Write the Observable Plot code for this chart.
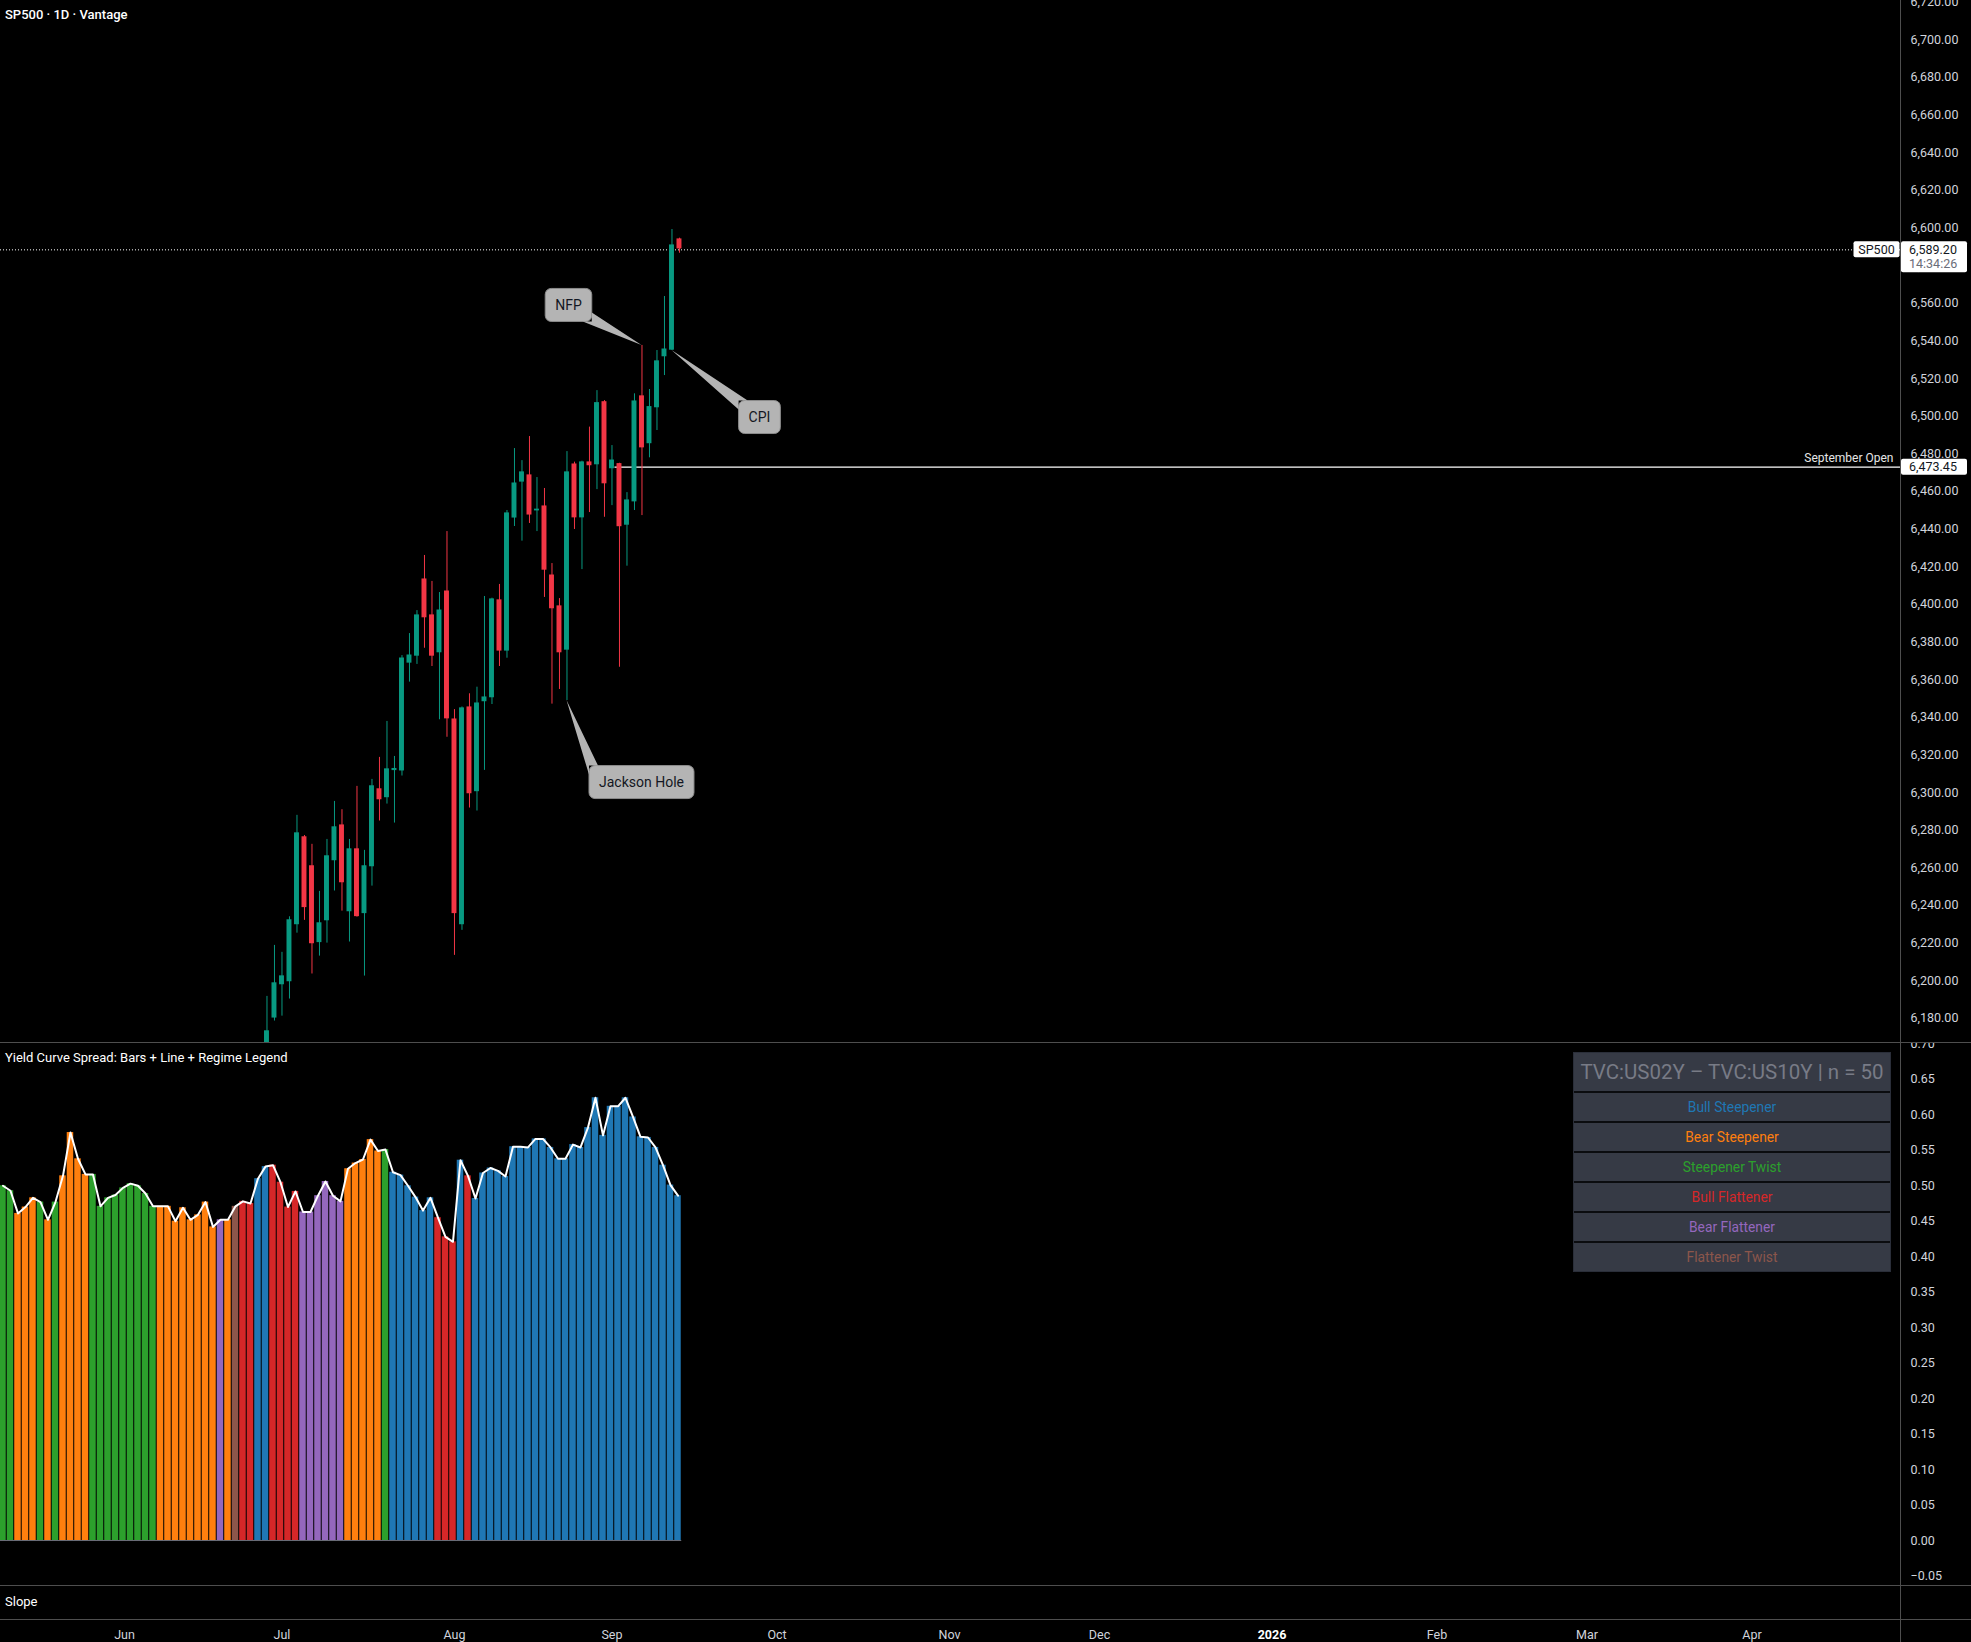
<!DOCTYPE html>
<html><head><meta charset="utf-8">
<script src="https://cdn.jsdelivr.net/npm/d3@7"></script>
<script src="https://cdn.jsdelivr.net/npm/@observablehq/plot@0.6"></script>
<style>
html,body{margin:0;padding:0;background:#000;}
#root{position:relative;width:1971px;height:1642px;overflow:hidden;background:#000;font-family:Roboto,"Noto Sans","DejaVu Sans",sans-serif;color:#d1d4dc;}
.pane{position:absolute;left:0;}
.pane svg{overflow:hidden;display:block;}
.sep{position:absolute;left:0;width:1971px;height:1px;background:#4e4e4e;}
.vsep{position:absolute;top:0;left:1900px;width:1px;height:1642px;background:#4e4e4e;}
.ttl{position:absolute;left:5px;color:#fff;font-size:13px;line-height:16px;white-space:nowrap;}
#legend{position:absolute;left:1573px;top:1052px;width:318px;background:#0b0c0f;border:1px solid #2a2e39;box-sizing:border-box;}
#legend div{background:#363a45;text-align:center;}
</style></head>
<body><div id="root"></div>
<script>
// ---------------- DATA ----------------
const chartTitle = "SP500 · 1D · Vantage";
const paneTitle = "Yield Curve Spread: Bars + Line + Regime Legend";
const slopeTitle = "Slope";

// Daily candles (weekday bars), first visible bar date
const candleStart = "2025-06-27";
const candleOpen  = [6150.0,6180.5,6198.2,6199.8,6230.1,6276.2,6260.8,6220.6,6232.2,6264.1,6282.5,6237.0,6269.8,6236.0,6260.9,6301.7,6297.6,6312.0,6311.8,6369.1,6372.8,6413.2,6394.1,6374.6,6406.8,6338.8,6230.1,6345.2,6300.8,6348.6,6350.7,6402.1,6375.5,6446.2,6465.3,6468.5,6450.0,6452.0,6415.3,6398.9,6376.0,6474.3,6446.3,6475.4,6474.5,6507.4,6472.4,6474.5,6442.4,6454.8,6510.5,6485.7,6504.8,6531.9,6535.4,6593.9];
const candleHigh  = [6191.7,6218.8,6215.1,6234.0,6287.9,6277.2,6272.5,6247.5,6275.1,6295.3,6290.9,6275.1,6303.3,6269.3,6307.0,6318.7,6337.8,6319.2,6372.8,6384.5,6396.7,6426.0,6412.2,6406.3,6438.7,6344.1,6345.5,6352.5,6356.0,6404.2,6403.3,6410.6,6449.9,6482.8,6476.4,6489.2,6467.4,6461.6,6421.7,6403.1,6481.2,6475.6,6476.1,6494.2,6513.6,6508.3,6484.4,6475.0,6459.4,6511.9,6537.6,6514.2,6534.9,6563.6,6599.2,6594.6];
const candleLow   = [6140.0,6178.6,6181.2,6190.3,6225.3,6232.1,6203.6,6213.1,6220.0,6247.7,6237.0,6220.6,6233.8,6202.5,6250.3,6284.9,6293.9,6283.8,6308.8,6358.7,6368.1,6376.7,6367.0,6338.7,6329.4,6213.5,6226.8,6291.8,6290.2,6311.8,6346.8,6367.0,6371.4,6441.4,6433.6,6443.0,6438.7,6403.7,6347.0,6354.8,6348.9,6439.8,6418.5,6448.8,6461.0,6446.3,6452.5,6366.6,6420.3,6449.9,6447.2,6477.9,6492.4,6521.6,6534.9,6586.6];
const candleClose = [6173.1,6198.6,6202.3,6232.1,6278.3,6239.2,6220.0,6230.5,6266.1,6281.5,6252.4,6269.8,6234.4,6260.8,6303.3,6296.5,6312.3,6312.5,6371.2,6372.8,6394.1,6393.2,6372.8,6396.7,6339.5,6236.0,6344.7,6299.7,6347.3,6350.5,6402.6,6375.5,6448.3,6464.2,6470.1,6447.8,6450.3,6418.5,6398.0,6374.6,6470.1,6446.3,6475.4,6474.0,6506.9,6464.4,6476.4,6441.6,6455.2,6507.8,6483.5,6504.8,6529.1,6535.4,6590.7,6589.2];

const lastPrice = 6589.20;
const lastTimer = "14:34:26";
const symbolTag = "SP500";
const septOpen = {date: "2025-09-01", value: 6473.45, label: "September Open"};

const callouts = [
  {label: "NFP", date: "2025-09-05", at: "high"},
  {label: "CPI", date: "2025-09-11", at: "low"},
  {label: "Jackson Hole", date: "2025-08-22", at: "low"}
];

// Yield-curve spread (US02Y – US10Y), one bar per weekday
const spreadStart = "2025-05-09";
const spreadValues = [0.500,0.493,0.461,0.470,0.483,0.477,0.452,0.477,0.514,0.575,
 0.538,0.516,0.516,0.471,0.483,0.487,0.497,0.503,0.500,0.489,
 0.471,0.471,0.471,0.450,0.469,0.452,0.459,0.477,0.442,0.452,
 0.452,0.471,0.478,0.475,0.510,0.527,0.529,0.505,0.470,0.492,
 0.463,0.463,0.486,0.506,0.486,0.478,0.524,0.532,0.537,0.565,
 0.549,0.551,0.519,0.515,0.500,0.484,0.465,0.483,0.455,0.428,
 0.421,0.536,0.514,0.482,0.518,0.525,0.521,0.513,0.555,0.555,
 0.554,0.566,0.566,0.554,0.538,0.538,0.558,0.554,0.582,0.624,
 0.571,0.612,0.612,0.624,0.597,0.569,0.568,0.554,0.529,0.501,0.486];
const spreadRegimes = ["ST","ST","BeS","BeS","BeS","ST","BeS","ST","BeS","BeS",
 "BeS","BeS","ST","ST","ST","ST","ST","ST","ST","ST",
 "ST","BeS","BeS","BeS","BeS","BeS","BeS","BeS","BeS","BeF",
 "BeS","FT","BuF","BuF","BuS","BuS","BuF","BuF","BuF","BuF",
 "BeF","BeF","BeF","BeF","BeF","BeF","BeS","BeS","BeS","BeS",
 "BeS","ST","BuS","BuS","BuS","BuS","BuS","BuS","BuF","BuF",
 "BuF","BuS","BuF","BuS","BuS","BuS","BuS","BuS","BuS","BuS",
 "BuS","BuS","BuS","BuS","BuS","BuS","BuS","BuS","BuS","BuS",
 "BuS","BuS","BuS","BuS","BuS","BuS","BuS","BuS","BuS","BuS","BuS"];

const regimeKeys   = ["BuS","BeS","ST","BuF","BeF","FT"];
const regimeNames  = ["Bull Steepener","Bear Steepener","Steepener Twist","Bull Flattener","Bear Flattener","Flattener Twist"];
const regimeColors = ["#1f77b4","#ff7f0e","#2ca02c","#d62728","#9467bd","#8c564b"];
const legendHeader = "TVC:US02Y – TVC:US10Y | n = 50";

const priceTicks = d3.range(6180, 6721, 20);
const spreadTicks = d3.range(-1, 15).map(k => +(k * 0.05).toFixed(2));
const monthLabels = ["Jun","Jul","Aug","Sep","Oct","Nov","Dec","2026","Feb","Mar","Apr"];

// ---------------- SETUP ----------------
const UP = "#089981", DN = "#f23645";
const FONT = "Roboto, 'Noto Sans', 'DejaVu Sans', sans-serif";
const fmtDay = d3.utcFormat("%Y-%m-%d");
const weekdays = d3.utcDay.range(new Date(Date.UTC(2025,4,1)), new Date(Date.UTC(2026,4,1)))
  .filter(d => d.getUTCDay() !== 0 && d.getUTCDay() !== 6);
const origin = weekdays.findIndex(d => fmtDay(d) === "2025-06-02");
const idxOf = s => weekdays.findIndex(d => fmtDay(d) === s) - origin;
const xDomain = [-16.53, 236.8];

const c0 = idxOf(candleStart);
const candles = candleOpen.map((o, j) => ({i: c0 + j, o, h: candleHigh[j], l: candleLow[j], c: candleClose[j]}));
const s0 = idxOf(spreadStart);
const spread = spreadValues.map((v, j) => ({i: s0 + j, v, color: regimeColors[regimeKeys.indexOf(spreadRegimes[j])]}));

// month ticks: first weekday of each month
const monthTicks = [];
weekdays.forEach((d, k) => {
  const prev = weekdays[k - 1];
  if (k - origin >= 0 && (!prev || prev.getUTCMonth() !== d.getUTCMonth()) && monthTicks.length < monthLabels.length)
    monthTicks.push({i: k - origin, label: monthLabels[monthTicks.length]});
});

const root = document.getElementById("root");
function place(node, top, cls) { const div = document.createElement("div"); div.className = cls || "pane"; div.style.top = top + "px"; if (node) div.appendChild(node); root.appendChild(div); return div; }

const measure = (() => { const ctx = document.createElement("canvas").getContext("2d"); return (t, f) => { ctx.font = f; return ctx.measureText(t).width; }; })();

// custom render: callouts
function calloutMark(index, scales, values, dims) {
  const g = d3.create("svg:g");
  const offsets = {"NFP": [-73, -40], "CPI": [88, 67], "Jackson Hole": [75, 82]};
  for (const c of callouts) {
    const cd = candles.find(d => d.i === idxOf(c.date));
    const ax = scales.x(cd.i), ay = scales.y(c.at === "high" ? cd.h : cd.l);
    const [ox, oy] = offsets[c.label];
    const w = measure(c.label, "14px " + FONT) + 20, h = 33;
    const cx = ax + ox, cy = ay + oy;
    const x0 = cx - w/2, y0 = cy - h/2;
    const kx = ox < 0 ? x0 + w : x0, ky = oy < 0 ? y0 + h : y0;
    const sx = ox < 0 ? -9 : 9, sy = oy < 0 ? -9 : 9;
    g.append("rect").attr("x", x0).attr("y", y0).attr("width", w).attr("height", h).attr("rx", 6)
      .attr("fill", "#b4b4b4").attr("stroke", "#8c8c8c").attr("stroke-width", 1);
    g.append("path").attr("d", `M${ax},${ay}L${kx + sx},${ky}L${kx},${ky}L${kx},${ky + sy}Z`).attr("fill", "#b4b4b4");
    g.append("text").attr("x", cx).attr("y", cy).attr("dy", "0.36em").attr("text-anchor", "middle")
      .attr("fill", "#131722").attr("font-size", 14).attr("font-family", FONT).text(c.label);
  }
  return g.node();
}

// custom render: price tags on the axis
function tagMark(index, scales, values, dims) {
  const g = d3.create("svg:g").attr("font-family", FONT);
  const ax = dims.width - dims.marginRight;
  const yp = scales.y(lastPrice) + 1.5;
  g.append("rect").attr("x", ax - 46.5).attr("y", yp - 8).attr("width", 46).attr("height", 16).attr("rx", 2).attr("fill", "#fff");
  g.append("text").attr("x", ax - 23.5).attr("y", yp).attr("dy", "0.35em").attr("text-anchor", "middle").attr("font-size", 12.5).attr("fill", "#131722").text(symbolTag);
  g.append("rect").attr("x", ax + 1).attr("y", yp - 8).attr("width", 66).attr("height", 31).attr("rx", 2).attr("fill", "#fff");
  g.append("text").attr("x", ax + 9).attr("y", yp).attr("dy", "0.35em").attr("text-anchor", "start").attr("font-size", 12.5).attr("fill", "#131722").text(d3.format(",.2f")(lastPrice));
  g.append("text").attr("x", ax + 9).attr("y", yp + 14).attr("dy", "0.35em").attr("text-anchor", "start").attr("font-size", 12.5).attr("fill", "#6a6d78").text(lastTimer);
  const ys = scales.y(septOpen.value) + 1;
  g.append("rect").attr("x", ax + 1).attr("y", ys - 8).attr("width", 66).attr("height", 16).attr("rx", 2).attr("fill", "#fff");
  g.append("text").attr("x", ax + 9).attr("y", ys).attr("dy", "0.35em").attr("text-anchor", "start").attr("font-size", 12.5).attr("fill", "#131722").text(d3.format(",.2f")(septOpen.value));
  return g.node();
}

// ---------------- MAIN PANE ----------------
const main = Plot.plot({
  width: 1971, height: 1042, marginLeft: 0, marginRight: 71, marginTop: 0, marginBottom: 0,
  style: {background: "#000", color: "#d1d4dc", fontFamily: FONT, fontSize: "12.5px", overflow: "hidden"},
  x: {domain: xDomain, axis: null},
  y: {domain: [6167.2, 6720.9], axis: "right", ticks: priceTicks, tickFormat: d3.format(",.2f"), tickSize: 0, tickPadding: 10, label: null},
  color: {type: "identity"},
  marks: [
    Plot.ruleY([septOpen.value], {x1: idxOf(septOpen.date) + 0.4, x2: xDomain[1], dy: 1, stroke: "#fff", strokeWidth: 1.3}),
    Plot.ruleY([lastPrice], {x1: xDomain[0], x2: xDomain[1], dy: 1.5, stroke: "#fff", strokeWidth: 1, strokeDasharray: "1,2"}),
    Plot.ruleX(candles, {x: "i", y1: "l", y2: "h", stroke: d => d.c >= d.o ? UP : DN, strokeWidth: 1}),
    Plot.rect(candles, {x1: d => d.i - 0.33, x2: d => d.i + 0.33, y1: d => Math.min(d.o, d.c), y2: d => Math.max(d.o, d.c),
      fill: d => d.c >= d.o ? UP : DN, insetTop: -0.6, insetBottom: -0.6}),
    Plot.text([septOpen], {x: xDomain[1], y: "value", text: "label", textAnchor: "end", dx: -7, dy: -8, fill: "#e6e6e6", fontSize: 12}),
    calloutMark,
    tagMark
  ]
});
place(main, 0);

// ---------------- SPREAD PANE ----------------
const lower = Plot.plot({
  width: 1971, height: 542, marginLeft: 0, marginRight: 71, marginTop: 0, marginBottom: 0,
  style: {background: "#000", color: "#d1d4dc", fontFamily: FONT, fontSize: "12.5px", overflow: "hidden"},
  x: {domain: xDomain, axis: null},
  y: {domain: [-0.0634, 0.7005], axis: "right", ticks: spreadTicks, tickFormat: d3.format(".2f"), tickSize: 0, tickPadding: 10, label: null},
  color: {type: "identity"},
  marks: [
    Plot.rect(spread, {x1: d => d.i - 0.7, x2: d => d.i + 0.3, y1: 0, y2: "v", fill: "color", insetLeft: 0.5, insetRight: 0.5}),
    Plot.ruleY([0], {x1: spread[0].i - 0.7, x2: spread[spread.length - 1].i + 0.3, stroke: "#6a6d78", strokeWidth: 1}),
    Plot.line(spread, {x: d => d.i - 0.2, y: "v", stroke: "#fff", strokeWidth: 2})
  ]
});
place(lower, 1043);

// ---------------- TIME AXIS ----------------
const timeAxis = Plot.plot({
  width: 1971, height: 22, marginLeft: 0, marginRight: 71, marginTop: 0, marginBottom: 0,
  style: {background: "#000", color: "#d1d4dc", fontFamily: FONT, fontSize: "12.5px", overflow: "hidden"},
  x: {domain: xDomain, axis: null},
  marks: [
    Plot.text(monthTicks.filter(d => !/^\d+$/.test(d.label)), {x: "i", text: "label", frameAnchor: "middle", dy: 3, fill: "#d1d4dc"}),
    Plot.text(monthTicks.filter(d => /^\d+$/.test(d.label)), {x: "i", text: "label", frameAnchor: "middle", dy: 3, fill: "#ffffff", fontWeight: "bold"})
  ]
});
place(timeAxis, 1620);

// ---------------- FRAME, TITLES, LEGEND ----------------
place(null, 1042, "sep"); place(null, 1585, "sep"); place(null, 1619, "sep");
place(null, 0, "vsep");
const t1 = place(null, 7, "ttl"); t1.textContent = chartTitle; t1.style.fontWeight = 500;
const t2 = place(null, 1050, "ttl"); t2.textContent = paneTitle;
const t3 = place(null, 1594, "ttl"); t3.textContent = slopeTitle;

const legend = document.createElement("div"); legend.id = "legend";
const hdr = document.createElement("div");
hdr.textContent = legendHeader;
Object.assign(hdr.style, {height: "38px", lineHeight: "38px", color: "#787b86", fontSize: "20.5px"});
legend.appendChild(hdr);
regimeNames.forEach((n, k) => {
  const r = document.createElement("div");
  r.textContent = n;
  Object.assign(r.style, {height: "28px", lineHeight: "28px", marginTop: "2px", color: regimeColors[k], fontSize: "13.8px"});
  legend.appendChild(r);
});
root.appendChild(legend);
</script></body></html>
